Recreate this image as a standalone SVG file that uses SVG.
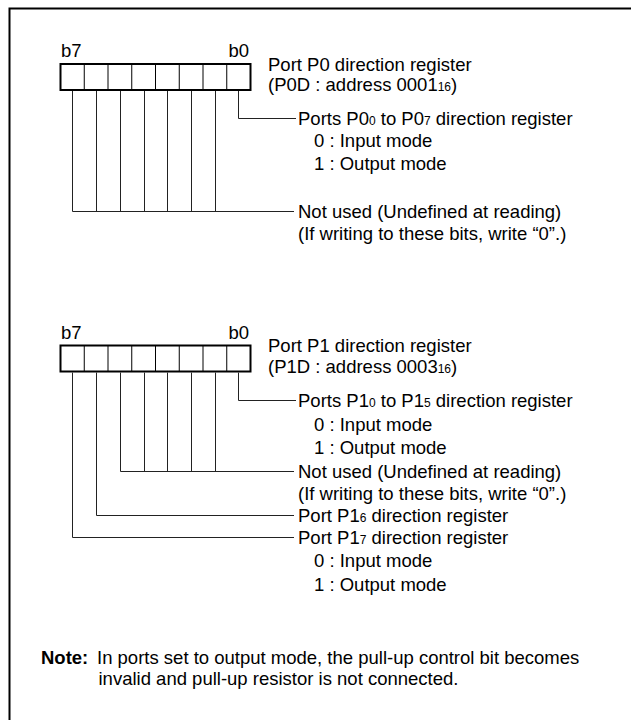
<svg xmlns="http://www.w3.org/2000/svg" width="631" height="720" viewBox="0 0 631 720">
<style>
text{font-family:"Liberation Sans",Arial,sans-serif;font-size:18.5px;fill:#000}
.sub{font-size:12px}
.b{font-weight:bold}
.box{fill:#fff;stroke:#000;stroke-width:2}
.div{stroke:#000;stroke-width:1}
.ln{fill:none;stroke:#222;stroke-width:1}
.frame{fill:none;stroke:#000;stroke-width:2}
</style>
<rect width="631" height="720" fill="#fff"/>
<path class="frame" d="M9.5,720 V8.5 H631"/>

<g id="reg-p0">
  <text x="61" y="57">b7</text>
  <text x="249" y="57" text-anchor="end">b0</text>
  <rect class="box" x="60.5" y="64" width="190" height="26"/>
  <path class="div" d="M84.25,64V90M108,64V90M131.75,64V90M155.5,64V90M179.25,64V90M203,64V90M226.75,64V90"/>
  <text x="268" y="70.5">Port P0 direction register</text>
  <text x="268" y="91">(P0D : address 0001<tspan class="sub">16</tspan>)</text>
</g>
<g id="p0-desc-b0">
  <text x="298" y="124.5">Ports P0<tspan class="sub">0</tspan> to P0<tspan class="sub">7</tspan> direction register</text>
  <text x="314" y="147">0 : Input mode</text>
  <text x="314" y="169.5">1 : Output mode</text>
</g>
<g id="p0-desc-unused">
  <text x="298" y="217.5">Not used (Undefined at reading)</text>
  <text x="298" y="240">(If writing to these bits, write “0”.)</text>
</g>

<g id="reg-p1">
  <text x="61" y="338.5">b7</text>
  <text x="249" y="338.5" text-anchor="end">b0</text>
  <rect class="box" x="60.5" y="345.5" width="190" height="26"/>
  <path class="div" d="M84.25,345.5V371.5M108,345.5V371.5M131.75,345.5V371.5M155.5,345.5V371.5M179.25,345.5V371.5M203,345.5V371.5M226.75,345.5V371.5"/>
  <text x="268" y="352">Port P1 direction register</text>
  <text x="268" y="372.5">(P1D : address 0003<tspan class="sub">16</tspan>)</text>
</g>
<g id="p1-desc-b0-5">
  <text x="298" y="406.5">Ports P1<tspan class="sub">0</tspan> to P1<tspan class="sub">5</tspan> direction register</text>
  <text x="314" y="430.5">0 : Input mode</text>
  <text x="314" y="454">1 : Output mode</text>
</g>
<g id="p1-desc-unused">
  <text x="298" y="477.5">Not used (Undefined at reading)</text>
  <text x="298" y="499.5">(If writing to these bits, write “0”.)</text>
</g>
<g id="p1-desc-b6">
  <text x="298" y="521.5">Port P1<tspan class="sub">6</tspan> direction register</text>
</g>
<g id="p1-desc-b7">
  <text x="298" y="543.5">Port P1<tspan class="sub">7</tspan> direction register</text>
  <text x="314" y="567">0 : Input mode</text>
  <text x="314" y="591">1 : Output mode</text>
</g>

<g id="connectors">
  <path class="ln" d="M238.5,91V118.5H296"/>
  <path class="ln" d="M72.5,91V211.5H294M96.5,91V211.5M120.5,91V211.5M144.5,91V211.5M167.5,91V211.5M191.5,91V211.5M215.5,91V211.5"/>
  <path class="ln" d="M238.5,372.5V400.5H296"/>
  <path class="ln" d="M120.5,372.5V471.5H294M144.5,372.5V471.5M167.5,372.5V471.5M191.5,372.5V471.5M215.5,372.5V471.5"/>
  <path class="ln" d="M96.5,372.5V515.5H294"/>
  <path class="ln" d="M72.5,372.5V537.5H294"/>
</g>

<g id="note">
  <text x="41" y="663.5"><tspan class="b">Note:</tspan></text>
  <text x="97" y="663.5">In ports set to output mode, the pull-up control bit becomes</text>
  <text x="98.5" y="684.5">invalid and pull-up resistor is not connected.</text>
</g>
</svg>
